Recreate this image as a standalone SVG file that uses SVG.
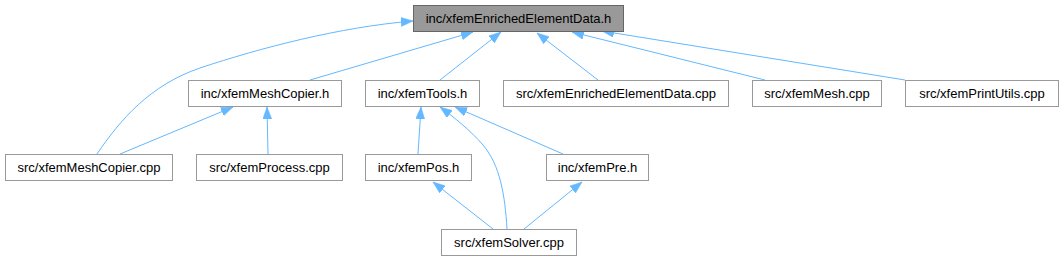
<svg xmlns="http://www.w3.org/2000/svg" width="1062" height="261" viewBox="0 0 1062 261">
<style>
.n rect{fill:#ffffff;stroke:#999999;stroke-width:1}
.hl rect{fill:#999999;stroke:#666666}
text{font-family:"Liberation Sans",Arial,sans-serif;font-size:13px;fill:#000000;text-anchor:middle}
.e path{fill:none;stroke:#63b8ff;stroke-width:1;marker-end:url(#ah)}
</style>
<defs>
<marker id="ah" markerUnits="userSpaceOnUse" markerWidth="13" markerHeight="10" refX="12" refY="4.5" orient="auto">
<path d="M0,0 L12,4.5 L0,9 z" fill="#63b8ff" stroke="#63b8ff" stroke-width="0.5"/>
</marker>
</defs>
<g id="edges" class="e">
<path d="M97,154 C120,120 150,85 200,68 C260,48 340,27 413,21"/>
<path d="M310,80 L473,32"/>
<path d="M440,80 L501,32"/>
<path d="M598,80 L537,33"/>
<path d="M765,80 L572,32"/>
<path d="M905,80 L602,31"/>
<path d="M120,154 L233,107"/>
<path d="M268,154 L267,107"/>
<path d="M418,154 L421,107"/>
<path d="M507,229 C505,195 500,165 483,145 C470,130 455,118 440,107"/>
<path d="M563,154 L455,107"/>
<path d="M493,229 L433,182"/>
<path d="M524,229 L582,182"/>
</g>
<g id="node_top" class="n hl"><rect x="413.5" y="5.5" width="210" height="26"/><text x="518.5" y="23">inc/xfemEnrichedElementData.h</text></g>
<g id="node_meshcopier_h" class="n"><rect x="188.5" y="80.5" width="153" height="26"/><text x="265" y="98">inc/xfemMeshCopier.h</text></g>
<g id="node_tools_h" class="n"><rect x="365.5" y="80.5" width="114" height="26"/><text x="422.5" y="98">inc/xfemTools.h</text></g>
<g id="node_eed_cpp" class="n"><rect x="503.5" y="80.5" width="225" height="26"/><text x="616" y="98">src/xfemEnrichedElementData.cpp</text></g>
<g id="node_mesh_cpp" class="n"><rect x="752.5" y="80.5" width="129" height="26"/><text x="817" y="98">src/xfemMesh.cpp</text></g>
<g id="node_printutils_cpp" class="n"><rect x="905.5" y="80.5" width="153" height="26"/><text x="982" y="98">src/xfemPrintUtils.cpp</text></g>
<g id="node_meshcopier_cpp" class="n"><rect x="5.5" y="154.5" width="167" height="26"/><text x="89" y="172">src/xfemMeshCopier.cpp</text></g>
<g id="node_process_cpp" class="n"><rect x="196.5" y="154.5" width="146" height="26"/><text x="269.5" y="172">src/xfemProcess.cpp</text></g>
<g id="node_pos_h" class="n"><rect x="365.5" y="154.5" width="106" height="26"/><text x="418.5" y="172">inc/xfemPos.h</text></g>
<g id="node_pre_h" class="n"><rect x="546.5" y="154.5" width="102" height="26"/><text x="597.5" y="172">inc/xfemPre.h</text></g>
<g id="node_solver_cpp" class="n"><rect x="441.5" y="229.5" width="135" height="26"/><text x="509" y="247">src/xfemSolver.cpp</text></g>
</svg>
